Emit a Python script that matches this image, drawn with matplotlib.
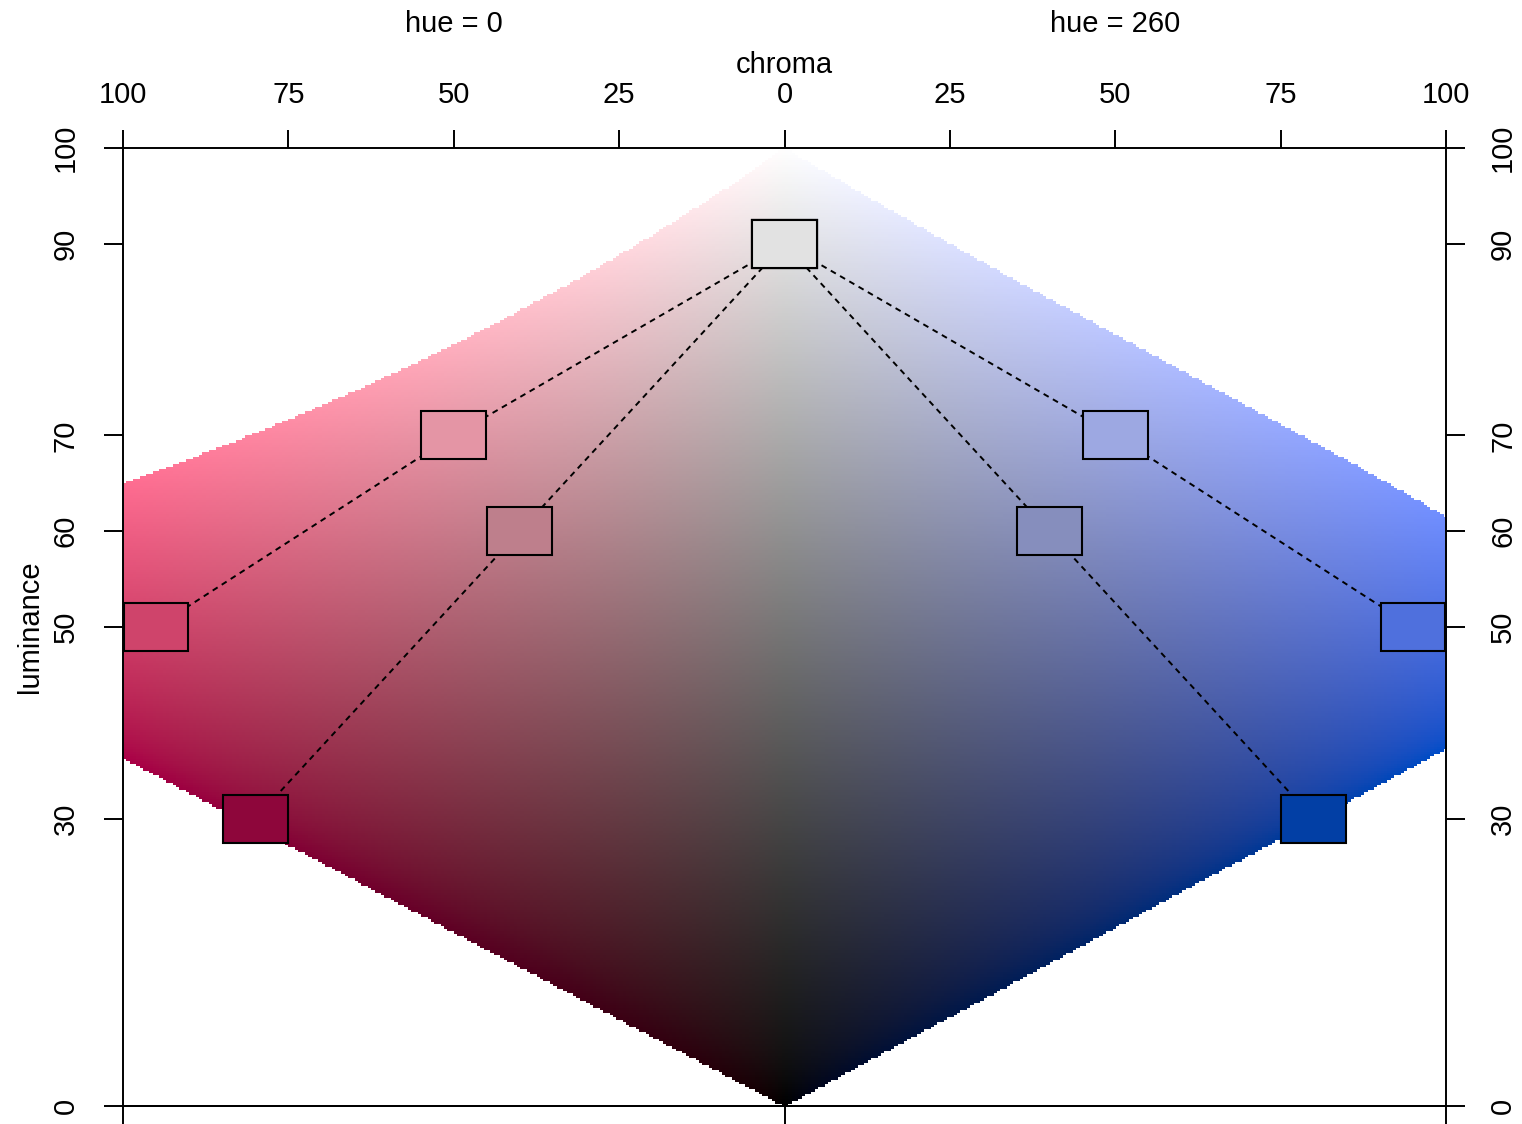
import numpy as np
import matplotlib
matplotlib.use("Agg")
import matplotlib.pyplot as plt
from matplotlib.patches import Rectangle
import matplotlib.transforms as mtransforms

plt.rcParams['font.family'] = ['Liberation Sans', 'DejaVu Sans']

# palette trajectories (luminance, chroma), same on both sides
hues = [0, 260]
outer_lum = [90, 70, 50]
outer_chroma = [0, 50, 95]
inner_lum = [90, 60, 30]
inner_chroma = [0, 40, 80]

chroma_ticks = [-100, -75, -50, -25, 0, 25, 50, 75, 100]
chroma_ticklabels = ["100", "75", "50", "25", "0", "25", "50", "75", "100"]
lum_ticks = [0, 30, 50, 60, 70, 90, 100]


def hcl2rgb(L, C, H):
    L = np.asarray(L, float)
    C = np.asarray(C, float)
    h = np.deg2rad(H)
    U = C * np.cos(h)
    V = C * np.sin(h)
    XN, YN, ZN = 95.047, 100.0, 108.883
    Ls = np.maximum(L, 1e-6)
    Y = np.where(Ls > 7.999592, YN * ((Ls + 16) / 116) ** 3, YN * Ls / 903.3)
    t = XN + YN + ZN
    x = XN / t
    y = YN / t
    uN = 2 * x / (6 * y - x + 1.5)
    vN = 4.5 * y / (6 * y - x + 1.5)
    u = U / (13 * Ls) + uN
    v = V / (13 * Ls) + vN
    X = 9.0 * Y * u / (4 * v)
    Z = -X / 3 - 5 * Y + 3 * Y / v
    X, Y, Z = X / 100, Y / 100, Z / 100
    R = 3.240479 * X - 1.537150 * Y - 0.498535 * Z
    G = -0.969256 * X + 1.875992 * Y + 0.041556 * Z
    B = 0.055648 * X - 0.204043 * Y + 1.057311 * Z
    lin = np.stack([R, G, B], axis=-1)
    ok = np.all((lin >= -1e-4) & (lin <= 1 + 1e-4), axis=-1)
    lin = np.clip(lin, 0, 1)
    rgb = np.where(lin > 0.0031308, 1.055 * lin ** (1 / 2.4) - 0.055, 12.92 * lin)
    return rgb, ok


fig = plt.figure(figsize=(15.22, 11.24), dpi=100)
ax = fig.add_axes([0.0808, 0.016, 0.8693, 0.8523])

# background color field
xs = np.linspace(-99.75, 99.75, 400)
ls = np.linspace(0.125, 99.875, 400)
XX, LL = np.meshgrid(xs, ls)
HH = np.where(XX < 0, hues[0], hues[1])
rgb, ok = hcl2rgb(LL, np.abs(XX), HH)
img = np.dstack([rgb, ok.astype(float)])
ax.imshow(img, extent=[-100, 100, 0, 100], origin='lower', aspect='auto',
          interpolation='nearest', zorder=0)

for hue, sign in zip(hues, [-1, 1]):
    for lum, chroma in [(outer_lum, outer_chroma), (inner_lum, inner_chroma)]:
        cx = [sign * c for c in chroma]
        ax.plot(cx, lum, color='black', lw=1.4, ls=(0, (3, 2.5)), zorder=2)
        cols, _ = hcl2rgb(lum, chroma, hue)
        for x0, y0, col in zip(cx, lum, cols):
            ax.add_patch(Rectangle((x0 - 4.9, y0 - 2.5), 9.8, 5.0,
                                   facecolor=col, edgecolor='black',
                                   lw=1.5, zorder=3, clip_on=False))

ax.set_xlim(-100, 100)
ax.set_ylim(0, 100)

for sp in ax.spines.values():
    sp.set_linewidth(1.4)

ax.xaxis.tick_top()
ax.set_xticks(chroma_ticks)
ax.set_xticklabels(chroma_ticklabels)
ax.tick_params(axis='x', top=True, bottom=False, labeltop=True, labelbottom=False,
               length=13, width=1.4, pad=15, labelsize=21)
ax.xaxis.set_label_position('top')
ax.set_xlabel("chroma", fontsize=21, labelpad=6)

ax.set_yticks(lum_ticks)
ax.tick_params(axis='y', left=True, right=True, labelleft=True, labelright=True,
               length=14, width=1.4, pad=17, labelsize=21, labelrotation=90)
for lab in ax.get_yticklabels():
    lab.set_va('center')
ax.set_ylabel("luminance", fontsize=21, labelpad=6)

sec = ax.secondary_xaxis('bottom')
sec.set_xticks([-100, 0, 100])
sec.set_xticklabels([])
sec.tick_params(length=20, width=1.4)
sec.spines['bottom'].set_linewidth(1.4)

trans = mtransforms.blended_transform_factory(ax.transData, fig.transFigure)
ax.text(-50, 0.979, "hue = %d" % hues[0], transform=trans, ha='center', va='center',
        fontsize=21)
ax.text(50, 0.979, "hue = %d" % hues[1], transform=trans, ha='center', va='center',
        fontsize=21)

fig.savefig("out.png", dpi=100)
